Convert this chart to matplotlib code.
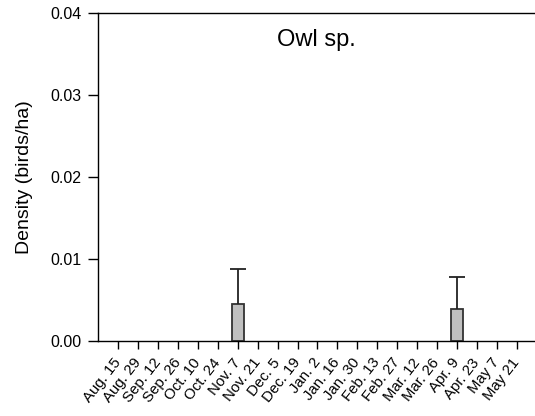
import matplotlib
matplotlib.use("Agg")
import matplotlib.pyplot as plt
import numpy as np

plt.rcParams['font.family'] = ['Liberation Sans', 'DejaVu Sans']

dates = ["Aug. 15", "Aug. 29", "Sep. 12", "Sep. 26", "Oct. 10", "Oct. 24", "Nov. 7",
         "Nov. 21", "Dec. 5", "Dec. 19", "Jan. 2", "Jan. 16", "Jan. 30", "Feb. 13",
         "Feb. 27", "Mar. 12", "Mar. 26", "Apr. 9", "Apr. 23", "May 7", "May 21"]
density = [0, 0, 0, 0, 0, 0, 0.00444, 0, 0, 0, 0, 0, 0, 0, 0, 0, 0, 0.00383, 0, 0, 0]
se = [0, 0, 0, 0, 0, 0, 0.00431, 0, 0, 0, 0, 0, 0, 0, 0, 0, 0, 0.00391, 0, 0, 0]

fig = plt.figure(figsize=(5.35, 4.16), dpi=100)
ax = fig.add_axes([0.1837, 0.181, 0.8163, 0.7877])

x = np.arange(len(dates))
vals = np.array(density)
errs = np.array(se)
mask = vals > 0
ax.bar(x[mask], vals[mask], width=0.62, color='#c0c0c0', edgecolor='#333333', linewidth=1.3, zorder=2)
eb = ax.errorbar(x[mask], vals[mask], yerr=[np.zeros(mask.sum()), errs[mask]], fmt='none',
                 ecolor='#222222', elinewidth=1.3, capsize=6.1, capthick=1.3, zorder=3)
# one-sided error bars: drop the lower caps
eb[1][0].remove()

ax.set_xlim(-1.004, 20.92)
ax.set_ylim(0, 0.04)
ax.set_yticks([0, 0.01, 0.02, 0.03, 0.04])
ax.set_yticklabels(["0.00", "0.01", "0.02", "0.03", "0.04"], fontsize=11.5)
ax.set_xticks(x)
ax.set_xticklabels(dates, rotation=52, ha='right', va='center', rotation_mode='anchor', fontsize=10.8)
ax.tick_params(axis='y', direction='out', length=7.2, width=1, pad=5)
ax.tick_params(axis='x', direction='out', length=5.8, width=1, pad=8)

ax.spines['right'].set_visible(False)
for s in ['left', 'top', 'bottom']:
    ax.spines[s].set_linewidth(1.0)

ax.set_ylabel("Density (birds/ha)", fontsize=14, labelpad=12)
ax.text(0.50, 0.917, "Owl sp.", transform=ax.transAxes, ha='center', va='center', fontsize=17)

fig.savefig("out.png", dpi=100)
